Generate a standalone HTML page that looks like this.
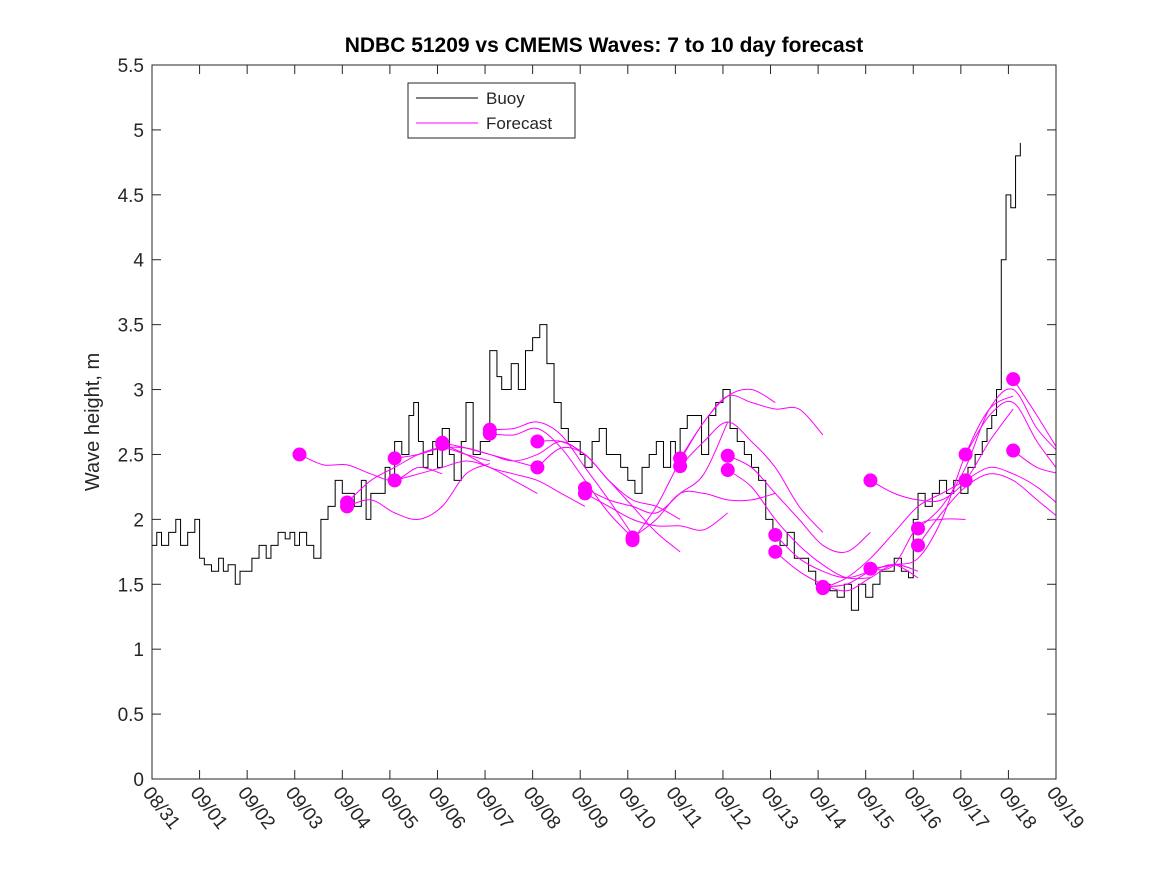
<!DOCTYPE html>
<html><head><meta charset="utf-8"><style>
body{margin:0;background:#fff;}
svg{display:block;font-family:"Liberation Sans",sans-serif;}
</style></head><body>
<svg id="chart" width="1167" height="875">
<rect width="1167" height="875" fill="#fff"/>
<defs><clipPath id="clip"><rect x="152" y="65" width="904" height="714"/></clipPath></defs>
<text x="604" y="52" text-anchor="middle" font-size="21" font-weight="bold">NDBC 51209 vs CMEMS Waves: 7 to 10 day forecast</text>
<text transform="translate(99,422) rotate(-90)" text-anchor="middle" font-size="20" fill="#262626">Wave height, m</text>
<g id="axes"></g>
<g id="marks" clip-path="url(#clip)"></g>
<rect x="152" y="65" width="904" height="714" fill="none" stroke="#262626" stroke-width="1"/>
<g>
<rect x="408" y="83" width="167" height="55" fill="#fff" stroke="#262626"/>
<line x1="416" y1="98" x2="478" y2="98" stroke="#000"/>
<text x="486" y="104" font-size="17" fill="#262626">Buoy</text>
<line x1="416" y1="123" x2="478" y2="123" stroke="#f0f"/>
<text x="486" y="129" font-size="17" fill="#262626">Forecast</text>
</g>
</svg>
<script>
const xLabels=["08/31","09/01","09/02","09/03","09/04","09/05","09/06","09/07","09/08","09/09","09/10","09/11","09/12","09/13","09/14","09/15","09/16","09/17","09/18","09/19"];
const yTicks=[0,0.5,1,1.5,2,2.5,3,3.5,4,4.5,5,5.5];
const buoyDays=[0,0.1,0.2,0.35,0.5,0.6,0.75,0.9,1.0,1.1,1.25,1.4,1.5,1.6,1.75,1.85,2.0,2.1,2.25,2.4,2.5,2.65,2.8,2.9,3.0,3.1,3.25,3.4,3.55,3.7,3.85,4.0,4.1,4.25,4.4,4.5,4.6,4.75,4.9,5.0,5.1,5.25,5.4,5.5,5.6,5.7,5.8,5.9,6.0,6.1,6.25,6.35,6.5,6.6,6.75,6.9,7.0,7.1,7.25,7.35,7.45,7.55,7.7,7.85,8.0,8.15,8.3,8.45,8.6,8.75,8.9,9.0,9.1,9.25,9.4,9.55,9.7,9.85,10.0,10.15,10.3,10.45,10.6,10.75,10.9,11.0,11.1,11.25,11.4,11.55,11.7,11.85,12.0,12.15,12.3,12.45,12.6,12.75,12.9,13.05,13.2,13.35,13.5,13.65,13.8,13.95,14.1,14.25,14.4,14.55,14.7,14.85,15.0,15.15,15.3,15.45,15.6,15.75,15.9,16.0,16.1,16.25,16.4,16.55,16.7,16.85,17.0,17.15,17.3,17.45,17.55,17.65,17.75,17.85,17.95,18.05,18.15,18.25];
const buoyVals=[1.8,1.9,1.8,1.9,2.0,1.8,1.9,2.0,1.7,1.65,1.6,1.7,1.6,1.65,1.5,1.6,1.6,1.7,1.8,1.7,1.8,1.9,1.85,1.9,1.8,1.9,1.8,1.7,2.0,2.1,2.3,2.2,2.2,2.1,2.3,2.0,2.2,2.2,2.4,2.3,2.6,2.5,2.8,2.9,2.6,2.4,2.5,2.6,2.4,2.7,2.5,2.3,2.6,2.9,2.5,2.6,2.6,3.3,3.1,3.0,3.0,3.2,3.0,3.3,3.4,3.5,3.2,2.9,2.7,2.6,2.6,2.5,2.4,2.6,2.7,2.5,2.5,2.4,2.3,2.2,2.4,2.5,2.6,2.4,2.6,2.5,2.7,2.8,2.8,2.5,2.8,2.9,3.0,2.7,2.6,2.5,2.4,2.3,2.0,1.9,1.8,1.9,1.7,1.7,1.6,1.5,1.5,1.45,1.4,1.5,1.3,1.5,1.4,1.5,1.6,1.6,1.7,1.6,1.55,2.0,2.2,2.1,2.2,2.3,2.2,2.3,2.2,2.4,2.5,2.6,2.7,2.8,3.0,4.0,4.5,4.4,4.8,4.9,4.6];
const fcStart=[3.1,4.1,4.1,5.1,5.1,6.1,6.1,7.1,7.1,8.1,8.1,9.1,9.1,10.1,10.1,11.1,11.1,12.1,12.1,13.1,13.1,14.1,14.1,15.1,15.1,16.1,16.1,17.1,17.1,18.1,18.1];
const fcVals=[
[2.5,2.42,2.42,2.35,2.3,2.4,2.35],
[2.13,2.3,2.4,2.5,2.55,2.5,2.45],
[2.1,2.15,2.05,2.0,2.1,2.35,2.43],
[2.47,2.5,2.55,2.55,2.5,2.45,2.4],
[2.3,2.35,2.4,2.45,2.4,2.3,2.2],
[2.59,2.55,2.5,2.45,2.5,2.6,2.5],
[2.58,2.5,2.4,2.35,2.3,2.2,2.1],
[2.69,2.7,2.75,2.65,2.4,2.15,1.88],
[2.66,2.65,2.7,2.55,2.3,2.05,1.86],
[2.6,2.6,2.5,2.3,2.1,1.9,1.75],
[2.4,2.55,2.5,2.3,2.15,2.1,2.0],
[2.24,2.15,2.1,2.05,2.2,2.35,2.75],
[2.2,2.1,2.0,1.95,1.95,1.92,2.05],
[1.86,2.0,2.2,2.2,2.15,2.15,2.2],
[1.84,2.1,2.45,2.75,2.95,3.0,2.9],
[2.47,2.75,2.95,2.9,2.85,2.85,2.65],
[2.41,2.6,2.75,2.6,2.4,2.1,1.9],
[2.49,2.4,2.2,2.0,1.8,1.75,1.9],
[2.38,2.25,2.0,1.8,1.65,1.55,1.55],
[1.88,1.7,1.6,1.55,1.6,1.65,1.55],
[1.75,1.6,1.5,1.45,1.55,1.65,1.6],
[1.48,1.5,1.6,1.65,1.95,2.0,2.0],
[1.47,1.55,1.7,1.9,2.1,2.2,2.3],
[2.3,2.2,2.15,2.15,2.3,2.6,2.85],
[1.62,1.65,1.7,2.0,2.5,2.85,2.95],
[1.93,2.1,2.4,2.85,3.0,2.7,2.5],
[1.8,2.05,2.25,2.35,2.3,2.15,2.0],
[2.5,2.8,2.9,2.6,2.35,2.1],
[2.3,2.4,2.35,2.25,2.1,1.95],
[3.08,2.8,2.5],
[2.53,2.4,2.35]];
const NS="http://www.w3.org/2000/svg";
const X0=152,X1=1056,Y0=779,Y1=65;
function xs(d){return X0+(X1-X0)*d/19;}
function ys(v){return Y0-(Y0-Y1)*v/5.5;}
function mk(t,a,p){const e=document.createElementNS(NS,t);for(const k in a)e.setAttribute(k,a[k]);p.appendChild(e);return e;}
const axes=document.getElementById('axes'),marks=document.getElementById('marks');
yTicks.forEach(v=>{const y=ys(v);
mk('line',{x1:X0,x2:X0+9,y1:y,y2:y,stroke:'#262626'},axes);
mk('line',{x1:X1,x2:X1-9,y1:y,y2:y,stroke:'#262626'},axes);
const t=mk('text',{x:X0-8,y:y+7,'text-anchor':'end','font-size':'19',fill:'#262626'},axes);
t.textContent=String(v);

});
xLabels.forEach((l,i)=>{const x=xs(i);
mk('line',{x1:x,x2:x,y1:Y0,y2:Y0-9,stroke:'#262626'},axes);
mk('line',{x1:x,x2:x,y1:Y1,y2:Y1+9,stroke:'#262626'},axes);
const t=mk('text',{x:0,y:0,transform:`translate(${x-10},${Y0+14}) rotate(52)`,'font-size':'19',fill:'#262626'},axes);
t.textContent=l;

});
// buoy step line
let d='';buoyDays.forEach((t,i)=>{const x=xs(t),y=ys(buoyVals[i]);
if(i===0)d='M'+x+','+y;else d+=' H'+x+' V'+y;});
const bl=mk('path',{d:d,fill:'none',stroke:'#000','stroke-width':1},marks);


fcVals.forEach((vals,k)=>{const s=fcStart[k];
const pts=vals.map((v,i)=>[xs(s+i*0.5),ys(v)]);
let p='M'+pts[0][0]+','+pts[0][1];
for(let i=1;i<pts.length;i++){const a=pts[i-1],b=pts[i],c=pts[i-2]||a,n=pts[i+1]||b;
p+=` C${a[0]+(b[0]-c[0])/6},${a[1]+(b[1]-c[1])/6} ${b[0]-(n[0]-a[0])/6},${b[1]-(n[1]-a[1])/6} ${b[0]},${b[1]}`;}
const l=mk('path',{d:p,fill:'none',stroke:'#f0f','stroke-width':1},marks);

});
fcVals.forEach((vals,k)=>{
const c=mk('circle',{cx:xs(fcStart[k]),cy:ys(vals[0]),r:7,fill:'#f0f'},marks);

});
</script>
</body></html>
